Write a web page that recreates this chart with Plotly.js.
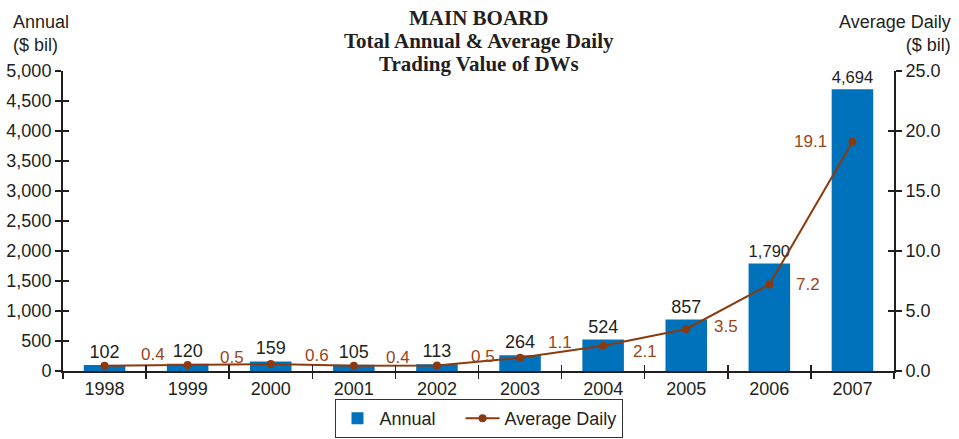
<!DOCTYPE html>
<html>
<head>
<meta charset="utf-8">
<script src="https://cdn.plot.ly/plotly-3.0.1.min.js"></script>
<style>html,body{margin:0;padding:0;background:#fff;}#chart{width:959px;height:439px;}</style>
</head>
<body>
<div id="chart"></div>
<script>
var years = ['1998','1999','2000','2001','2002','2003','2004','2005','2006','2007'];
var annual = [102, 120, 159, 105, 113, 264, 524, 857, 1790, 4694];
var avgDaily = [0.44, 0.5, 0.58, 0.43, 0.46, 1.1, 2.1, 3.5, 7.2, 19.1];
var avgDailyLabels = ['0.4','0.5','0.6','0.4','0.5','1.1','2.1','3.5','7.2','19.1'];
var seriesNames = ['Annual', 'Average Daily'];
var titleLines = ['MAIN BOARD', 'Total Annual &amp; Average Daily', 'Trading Value of DWs'];

var BLUE = '#0072BC', BROWN = '#8A3A0E', LABEL_BROWN = '#9A4519', INK = '#231F20';
var FONT = 'Liberation Sans, Arial, sans-serif';
var SERIF = 'Liberation Serif, Times New Roman, serif';
var NB = '\u00a0\u00a0\u00a0\u00a0'; // spacing after first legend entry

// pixel offsets of the average-daily labels relative to their points
var lblShiftX = [48, 44, 46, 44, 46, 40, 42, 40, 39, -42];
var lblShiftY = [11, 8, 9, 8, 9, 15, -6, 3, 0, 0];

var traces = [
  {type:'bar', name:seriesNames[0] + NB, x:years, y:annual, marker:{color:BLUE}, width:0.5,
   text:annual.map(function(v){return v.toLocaleString('en-US');}), textposition:'outside',
   textfont:{family:FONT, size:18, color:INK}, cliponaxis:false, hoverinfo:'skip'},
  {type:'scatter', mode:'lines+markers', name:seriesNames[1], x:years, y:avgDaily, yaxis:'y2',
   line:{color:BROWN, width:2}, marker:{color:BROWN, size:8}, hoverinfo:'skip', cliponaxis:false},
  // invisible helper traces: they only carry the inner half of the crossing ticks
  {type:'scatter', mode:'markers', x:[0], y:[0], xaxis:'x2', yaxis:'y3', marker:{opacity:0}, showlegend:false, hoverinfo:'skip'},
  {type:'scatter', mode:'markers', x:[0], y:[0], xaxis:'x2', yaxis:'y4', marker:{opacity:0}, showlegend:false, hoverinfo:'skip'}
];

var annotations = years.map(function(yr, i){
  return {x:i, y:avgDaily[i], xref:'x', yref:'y2', text:avgDailyLabels[i], showarrow:false,
    xshift:lblShiftX[i], yshift:lblShiftY[i], font:{family:FONT, size:17, color:LABEL_BROWN}};
});
var titleY = [1.178, 1.099, 1.025];
titleLines.forEach(function(t, i){
  annotations.push({xref:'paper', yref:'paper', x:0.5, y:titleY[i], xanchor:'center', yanchor:'middle',
    text:'<b>' + t + '</b>', showarrow:false, font:{family:SERIF, size:21, color:INK}});
});
annotations.push({xref:'paper', yref:'paper', x:-0.062, y:1.126, xanchor:'left', yanchor:'middle', align:'left',
  text:'Annual<br>($ bil)', showarrow:false, font:{family:FONT, size:18, color:INK}});
annotations.push({xref:'paper', yref:'paper', x:1.071, y:1.126, xanchor:'right', yanchor:'middle', align:'right',
  text:'Average Daily<br>($ bil)', showarrow:false, font:{family:FONT, size:18, color:INK}});

var boundaries = years.map(function(y, i){ return i - 0.5; }).concat([years.length - 0.5]);

var tickCommon = {ticklen:6, tickwidth:1.5, tickcolor:INK, showgrid:false, zeroline:false};
function ext(a, b){ var o = {}; for (var k in a) o[k] = a[k]; for (var k2 in b) o[k2] = b[k2]; return o; }

var layout = {
  width:959, height:439,
  margin:{l:63, r:65, t:71, b:68, autoexpand:false},
  paper_bgcolor:'#fff', plot_bgcolor:'#fff',
  showlegend:true,
  legend:{orientation:'h', x:0.5, xanchor:'center', yref:'container', y:0.002, yanchor:'bottom',
    itemwidth:34,
    bordercolor:'#333', borderwidth:1, font:{family:FONT, size:18, color:INK}, traceorder:'normal'},
  xaxis:ext(tickCommon, {type:'category', range:[-0.5, 9.5], showline:true, linecolor:INK, linewidth:2,
    ticks:'outside', tickson:'boundaries', tickfont:{family:FONT, size:18, color:INK}}),
  xaxis2:ext(tickCommon, {overlaying:'x', anchor:'y', range:[-0.5, 9.5], tickvals:boundaries, ticks:'inside',
    showticklabels:false, showline:false}),
  yaxis:ext(tickCommon, {range:[0, 5000], dtick:500, tickformat:',', showline:true, linecolor:INK, linewidth:2,
    ticks:'outside', tickfont:{family:FONT, size:18, color:INK}}),
  yaxis3:ext(tickCommon, {overlaying:'y', anchor:'x', side:'left', range:[0, 5000], dtick:500, ticks:'inside',
    showticklabels:false, showline:false}),
  yaxis2:ext(tickCommon, {overlaying:'y', side:'right', range:[0, 25], dtick:5, tickformat:'.1f', showline:true,
    linecolor:INK, linewidth:2, ticks:'outside', tickfont:{family:FONT, size:18, color:INK}}),
  yaxis4:ext(tickCommon, {overlaying:'y', side:'right', anchor:'x', range:[0, 25], dtick:5, ticks:'inside',
    showticklabels:false, showline:false}),
  annotations:annotations
};

Plotly.newPlot('chart', traces, layout, {displayModeBar:false, staticPlot:true});
</script>
</body>
</html>
